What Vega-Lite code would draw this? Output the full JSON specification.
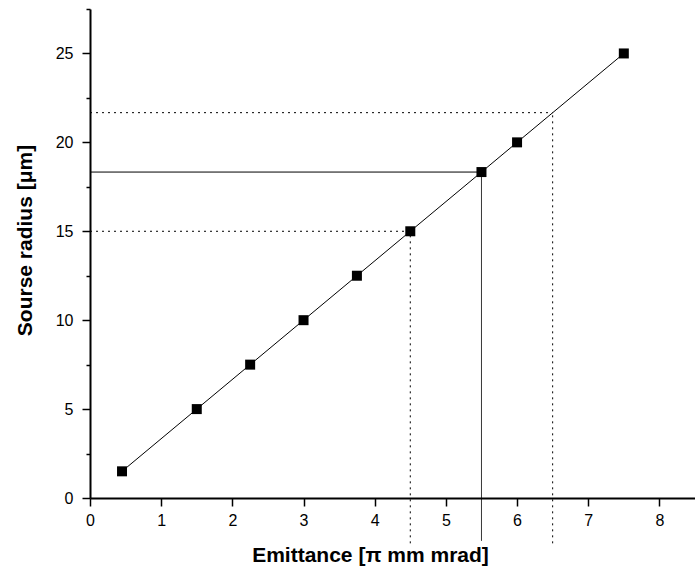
{
  "$schema": "https://vega.github.io/schema/vega-lite/v6.json",
  "width": 605,
  "height": 489,
  "autosize": "none",
  "padding": {"left": 90, "top": 9, "right": 0, "bottom": 78},
  "background": "white",
  "config": {
    "view": {"stroke": null},
    "axis": {
      "grid": false,
      "domainColor": "black",
      "domainWidth": 2,
      "tickColor": "black",
      "tickWidth": 1.5,
      "labelFont": "Liberation Sans",
      "labelFontSize": 16,
      "labelColor": "black",
      "titleFont": "Liberation Sans",
      "titleFontSize": 21,
      "titleFontWeight": "bold",
      "titleColor": "black"
    }
  },
  "datasets": {
    "pts": [
      {"e": 0.45, "r": 1.5},
      {"e": 1.5, "r": 5},
      {"e": 2.25, "r": 7.5},
      {"e": 3, "r": 10},
      {"e": 3.75, "r": 12.5},
      {"e": 4.5, "r": 15},
      {"e": 5.5, "r": 18.33},
      {"e": 6, "r": 20},
      {"e": 7.5, "r": 25}
    ],
    "rules": [
      {"x": 0, "x2": 4.5, "y": 15, "y2": 15, "style": "dotted"},
      {"x": 4.5, "x2": 4.5, "y": -2.55, "y2": 15, "style": "dotted"},
      {"x": 0, "x2": 5.5, "y": 18.33, "y2": 18.33, "style": "solid"},
      {"x": 5.5, "x2": 5.5, "y": -2.4, "y2": 18.33, "style": "solid"},
      {"x": 0, "x2": 6.5, "y": 21.67, "y2": 21.67, "style": "dotted"},
      {"x": 6.5, "x2": 6.5, "y": -2.55, "y2": 21.67, "style": "dotted"}
    ]
  },
  "layer": [
    {
      "data": {"name": "rules"},
      "mark": {"type": "rule", "color": "black", "strokeWidth": 1, "clip": false},
      "encoding": {
        "x": {
          "field": "x", "type": "quantitative",
          "scale": {"domain": [0, 8.5], "nice": false, "zero": false},
          "axis": {
            "title": "Emittance [π mm mrad]",
            "values": [0, 0.5, 1, 1.5, 2, 2.5, 3, 3.5, 4, 4.5, 5, 5.5, 6, 6.5, 7, 7.5, 8, 8.5],
            "labelExpr": "datum.value % 1 === 0 ? format(datum.value, 'd') : ''",
            "tickSize": {"condition": {"test": "datum.value % 1 !== 0", "value": 4}, "value": 8},
            "labelPadding": 6,
            "titleX": 280,
            "titleY": 46,
            "titleAlign": "center",
            "titleBaseline": "top",
            "labelFlush": false,
            "labelOverlap": false
          }
        },
        "x2": {"field": "x2"},
        "y": {
          "field": "y", "type": "quantitative",
          "scale": {"domain": [0, 27.5], "nice": false, "zero": false},
          "axis": {
            "title": "Sourse radius [μm]",
            "values": [0, 2.5, 5, 7.5, 10, 12.5, 15, 17.5, 20, 22.5, 25, 27.5],
            "labelExpr": "datum.value % 5 === 0 ? format(datum.value, 'd') : ''",
            "tickSize": {"condition": {"test": "datum.value % 5 !== 0", "value": 4}, "value": 8},
            "labelPadding": 9,
            "titleX": -55,
            "titleY": 231,
            "titleAngle": -90,
            "titleAlign": "center",
            "titleBaseline": "bottom",
            "labelFlush": false,
            "labelOverlap": false
          }
        },
        "y2": {"field": "y2"},
        "strokeDash": {
          "field": "style", "type": "nominal",
          "scale": {"domain": ["solid", "dotted"], "range": [[1, 0], [2, 4]]},
          "legend": null
        }
      }
    },
    {
      "data": {"name": "pts"},
      "mark": {"type": "line", "color": "black", "strokeWidth": 1},
      "encoding": {
        "x": {"field": "e", "type": "quantitative"},
        "y": {"field": "r", "type": "quantitative"}
      }
    },
    {
      "data": {"name": "pts"},
      "mark": {"type": "point", "shape": "square", "filled": true, "color": "black", "size": 100, "opacity": 1},
      "encoding": {
        "x": {"field": "e", "type": "quantitative"},
        "y": {"field": "r", "type": "quantitative"}
      }
    }
  ]
}
